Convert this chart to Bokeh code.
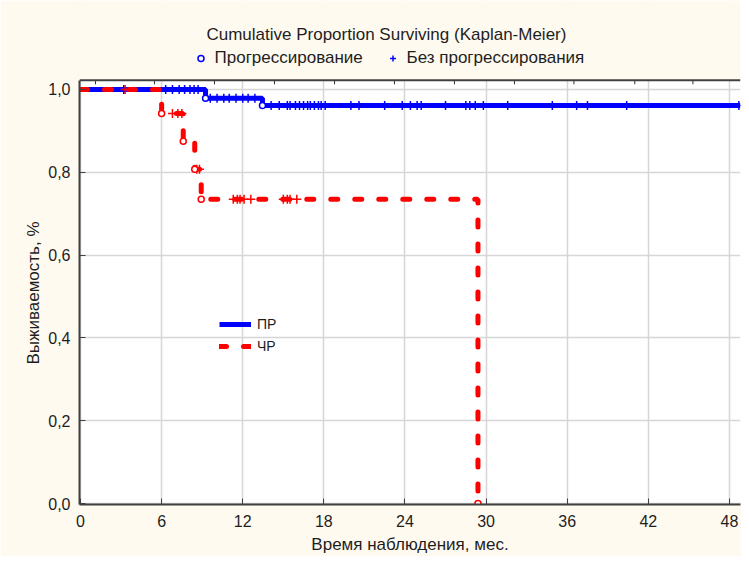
import numpy as np
from bokeh.plotting import figure
from bokeh.models import (Range1d, FixedTicker, Legend, LegendItem, Label, Span,
                          BoxAnnotation, Title, CustomJSTickFormatter)
from bokeh.embed import file_html
from bokeh.resources import INLINE

# ---------------- data ----------------
title_text = "Cumulative Proportion Surviving (Kaplan-Meier)"
x_label = "Время наблюдения, мес."
y_label = "Выживаемость, %"
x_ticks = [0, 6, 12, 18, 24, 30, 36, 42, 48]
y_ticks = [0.0, 0.2, 0.4, 0.6, 0.8, 1.0]
top_ticks = [1.11, 5.47, 9.91, 14.35, 18.79, 23.22, 27.66, 32.1, 36.5, 41.0, 45.3]

event_label = "Прогрессирование"
censor_label = "Без прогрессирования"

pr_name = "ПР"
pr_times = [0.0, 9.25, 13.46, 48.8]
pr_surv = [1.0, 0.979, 0.961, 0.961]
pr_event_times = [9.25, 13.46]
pr_censored = [3.2, 6.3, 6.8, 7.3, 7.7, 8.1, 8.4, 8.7,
               9.6, 10.1, 10.6, 11.0, 11.5, 12.0, 12.4, 12.9,
               14.1, 14.7, 15.3, 15.5, 15.9, 16.2, 16.5, 16.8, 17.0, 17.3, 17.6,
               17.8, 18.1, 20.0, 20.6, 22.5, 23.8, 24.4, 24.9, 25.2, 27.0, 28.5,
               28.8, 29.2, 29.8, 31.6, 34.9, 36.7, 37.5, 40.4, 48.7]

chr_name = "ЧР"
chr_times = [0.0, 6.0, 7.6, 8.45, 8.93, 29.4]
chr_surv = [1.0, 0.942, 0.875, 0.807, 0.735, 0.0]
chr_event_times = [6.0, 7.6, 8.45, 8.93, 29.4]
chr_censored = [3.3, 6.8, 7.2, 7.5, 8.6, 8.8, 11.3, 11.6, 11.8, 12.1, 12.6,
                15.0, 15.3, 15.5, 16.0]


def surv_at(times, surv, t):
    idx = np.searchsorted(np.asarray(times), np.asarray(t), side="right") - 1
    return list(np.asarray(surv)[idx])


FONT = "Liberation Sans"
TXT = "#1e1e1e"
BLUE = "#0000ff"
RED = "#ff0000"
CREAM = "#fffaf0"

Y_LO, Y_TOP = -0.0024, 1.022          # visible plotting box
PX = 415.0                             # pixels per unit of survival
Y_HI = Y_TOP + 80 / PX                 # header area above the box

p = figure(width=741, height=556, output_backend="svg", toolbar_location=None,
           x_range=Range1d(-0.074, 48.82), y_range=Range1d(Y_LO, Y_HI),
           min_border_left=79, min_border_right=1, min_border_top=0,
           min_border_bottom=51, background_fill_color="white",
           border_fill_color=CREAM, outline_line_color=None)

# axes
p.xaxis.ticker = FixedTicker(ticks=x_ticks)
p.yaxis.ticker = FixedTicker(ticks=y_ticks)
p.yaxis.bounds = (Y_LO, Y_TOP)
p.yaxis.formatter = CustomJSTickFormatter(code="return tick.toFixed(1).replace('.', ',');")
for ax in (p.xaxis[0], p.yaxis[0]):
    ax.major_tick_in = 6
    ax.major_tick_out = 0
    ax.minor_tick_line_color = None
    ax.axis_line_color = "#404040"
    ax.axis_line_width = 2
    ax.major_tick_line_color = "#404040"
    ax.major_tick_line_width = 1
    ax.major_label_text_font = FONT
    ax.major_label_text_font_size = "16px"
    ax.major_label_text_color = TXT
    ax.axis_label_text_font = FONT
    ax.axis_label_text_font_size = "17px"
    ax.axis_label_text_font_style = "normal"
    ax.axis_label_text_color = TXT
p.xaxis.major_label_standoff = 10
p.xaxis.axis_label_standoff = 5
p.yaxis.major_label_standoff = 9
p.xaxis.axis_label = x_label

# y-axis title, placed alongside the plotting box (not the header)
p.add_layout(Title(text=y_label, align="left", offset=140, vertical_align="bottom",
                   standoff=6, text_font=FONT, text_font_size="17px",
                   text_font_style="normal", text_color=TXT), "left")

p.xgrid.ticker = FixedTicker(ticks=x_ticks)
p.ygrid.ticker = FixedTicker(ticks=y_ticks)
p.grid.grid_line_color = "#d6d6d6"
p.grid.grid_line_width = 1.5

# top frame ticks
n_top = len(top_ticks)
p.segment(x0=top_ticks, y0=[Y_TOP] * n_top, x1=top_ticks,
          y1=[Y_TOP - 4 / PX] * n_top, line_color="#303030", line_width=1)

# survival curves
r_pr = p.step(pr_times, pr_surv, mode="after", line_color=BLUE, line_width=5)
r_chr = p.step(chr_times, chr_surv, mode="after", line_color=RED, line_width=5,
               line_dash="7 17", line_cap="round")

# censored (+) and events (o)
r_cen_pr = p.scatter(pr_censored, surv_at(pr_times, pr_surv, pr_censored),
                     marker="cross", size=9, line_color=BLUE, line_width=1.5)
p.scatter(chr_censored, surv_at(chr_times, chr_surv, chr_censored),
          marker="cross", size=9, line_color=RED, line_width=1.5)
r_ev_pr = p.scatter(pr_event_times, surv_at(pr_times, pr_surv, pr_event_times),
                    marker="circle", size=6, line_color=BLUE, fill_color="white",
                    line_width=1.5)
p.scatter(chr_event_times, surv_at(chr_times, chr_surv, chr_event_times),
          marker="circle", size=6, line_color=RED, fill_color="white", line_width=1.5)

# header area (cream) and top frame line
p.add_layout(BoxAnnotation(bottom=Y_TOP, fill_color=CREAM, fill_alpha=1.0,
                           line_color=None))
p.add_layout(Span(location=Y_TOP, dimension="width", line_color="#404040",
                  line_width=2))

# title
p.add_layout(Label(x=22.63, y=1.0 + 55.3 / PX, text=title_text, text_align="center",
                   text_baseline="middle", text_font=FONT, text_font_size="17px",
                   text_color=TXT))

# top legend (markers)
leg_top = Legend(items=[LegendItem(label=event_label, renderers=[r_ev_pr]),
                        LegendItem(label=censor_label, renderers=[r_cen_pr])],
                 orientation="horizontal", location=(113.5, 436),
                 padding=0, margin=0, spacing=10, border_line_color=None,
                 background_fill_alpha=0, glyph_width=15, glyph_height=20,
                 label_height=20, label_width=160, label_standoff=7,
                 label_text_font=FONT, label_text_font_size="17px",
                 label_text_color=TXT)
p.add_layout(leg_top)

# inner legend (lines)
leg_in = Legend(items=[LegendItem(label=pr_name, renderers=[r_pr]),
                       LegendItem(label=chr_name, renderers=[r_chr])],
                orientation="vertical", location=(140, 148),
                padding=0, margin=0, spacing=2, border_line_color=None,
                background_fill_alpha=0, glyph_width=32, glyph_height=20,
                label_height=20, label_standoff=6,
                label_text_font=FONT, label_text_font_size="14px",
                label_text_color=TXT)
p.add_layout(leg_in)

open("out.html", "w").write(file_html(p, INLINE))
